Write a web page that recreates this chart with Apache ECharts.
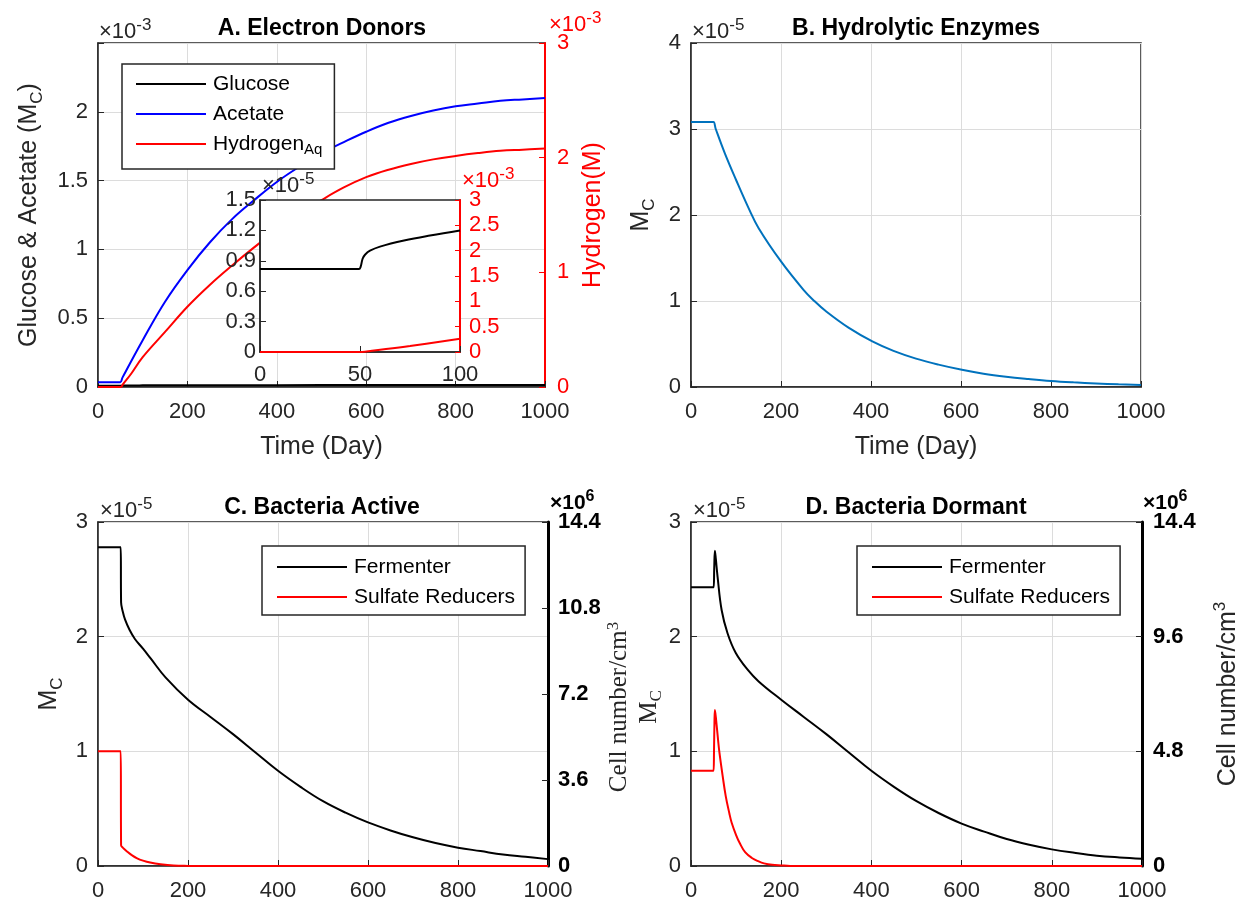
<!DOCTYPE html>
<html>
<head>
<meta charset="utf-8">
<script src="https://cdn.jsdelivr.net/npm/echarts@6/dist/echarts.min.js"></script>
<style>
  html, body { margin: 0; padding: 0; background: #fff; }
  #chart { width: 1244px; height: 907px; }
</style>
</head>
<body>
<div id="chart"></div>
<script>
// ---- A. Electron donors (Glucose in 1e-5 M_C, Acetate in 1e-3 M_C, Hydrogen in 1e-3 M) ----
const timeGlucose = [0, 45, 49.5, 50.3, 51.3, 52.5, 55, 60, 72, 85, 100, 200, 400, 600, 800, 1000];
const glucose     = [0.82, 0.82, 0.82, 0.84, 0.92, 0.96, 1.0, 1.04, 1.1, 1.15, 1.2, 1.3, 1.35, 1.38, 1.4, 1.41];

const timeAcetate = [0, 45, 50, 55, 100, 150, 200, 250, 300, 350, 400, 450, 500, 550, 600, 650, 700, 750, 800, 850, 900, 950, 1000];
const acetate     = [0.035, 0.035, 0.035, 0.07, 0.34, 0.62, 0.85, 1.05, 1.22, 1.36, 1.49, 1.6, 1.7, 1.78, 1.855, 1.92, 1.97, 2.01, 2.04, 2.06, 2.08, 2.09, 2.1];

const timeHydrogen = [0, 46, 51, 56, 75, 100, 150, 200, 250, 300, 350, 400, 450, 500, 550, 600, 650, 700, 750, 800, 850, 900, 950, 1000];
const hydrogen     = [0, 0, 0, 0.025, 0.12, 0.26, 0.48, 0.7, 0.89, 1.06, 1.22, 1.37, 1.51, 1.63, 1.74, 1.83, 1.895, 1.945, 1.985, 2.015, 2.04, 2.06, 2.07, 2.08];

// ---- B. Hydrolytic enzymes (1e-5 M_C) ----
const timeEnzyme = [0, 45, 50, 55, 75, 100, 128, 150, 200, 250, 274, 300, 350, 403, 450, 500, 550, 602, 650, 700, 750, 800, 850, 900, 950, 1000];
const enzyme     = [3.08, 3.08, 3.08, 3.0, 2.72, 2.41, 2.08, 1.85, 1.46, 1.13, 1.0, 0.88, 0.69, 0.53, 0.42, 0.33, 0.26, 0.2, 0.155, 0.12, 0.093, 0.07, 0.054, 0.042, 0.031, 0.022];

// ---- C. Active bacteria (1e-5 M_C) ----
const timeFermActive = [0, 45, 50.5, 51.3, 55, 60, 70, 82, 100, 117, 150, 200, 250, 300, 350, 400, 450, 500, 550, 600, 650, 700, 750, 800, 850, 900, 950, 1000];
const fermActive     = [2.78, 2.78, 2.78, 2.3, 2.22, 2.15, 2.06, 1.98, 1.895, 1.81, 1.645, 1.45, 1.3, 1.15, 0.99, 0.83, 0.69, 0.565, 0.465, 0.38, 0.31, 0.25, 0.2, 0.16, 0.13, 0.1, 0.08, 0.06];

const timeSrbActive = [0, 45, 50.5, 51.3, 55, 65, 75, 87, 100, 116, 139, 168, 200, 250, 1000];
const srbActive     = [1.0, 1.0, 1.0, 0.18, 0.16, 0.125, 0.095, 0.067, 0.047, 0.03, 0.015, 0.004, 0.001, 0, 0];

// ---- D. Dormant bacteria (1e-5 M_C) ----
const timeFermDormant = [0, 45, 50, 51.5, 53, 55, 59, 68, 81, 99, 126, 150, 200, 250, 300, 350, 400, 450, 500, 550, 600, 650, 700, 750, 800, 850, 900, 950, 1000];
const fermDormant     = [2.43, 2.43, 2.43, 2.6, 2.75, 2.68, 2.52, 2.23, 2.03, 1.86, 1.71, 1.61, 1.45, 1.3, 1.15, 0.99, 0.83, 0.69, 0.565, 0.46, 0.37, 0.3, 0.235, 0.185, 0.145, 0.115, 0.09, 0.075, 0.064];

const timeSrbDormant = [0, 45, 50, 51, 52, 53, 55, 60, 63, 70, 77, 85, 90, 100, 108, 120, 135, 150, 162, 180, 200, 220, 250, 1000];
const srbDormant     = [0.83, 0.83, 0.83, 1.0, 1.25, 1.36, 1.3, 1.1, 0.99, 0.79, 0.61, 0.46, 0.38, 0.27, 0.2, 0.12, 0.07, 0.04, 0.023, 0.01, 0.005, 0.001, 0, 0];

// ---- Cell number axes (1e6 cells/cm^3) ----
const cellMax = 14.4;
const cellStepActive = 3.6;
const cellStepDormant = 4.8;

const AX = '#262626';
const GRID = '#dcdcdc';
const SANS = 'Liberation Sans';
const SERIF = 'Liberation Serif';

function pairs(t, v, k = 1, tMax = Infinity) {
  const out = [];
  t.forEach((x, i) => { if (x <= tMax) out.push([x, v[i] * k]); });
  return out;
}
function fmt(v) { return String(+v.toFixed(2)); }

function rich(size, color, weight, family, supScale = 0.68) {
  const s = Math.round(size * supScale);
  return {
    n:   { fontSize: size, lineHeight: size + 8, color, fontWeight: weight, fontFamily: family, verticalAlign: 'middle' },
    sup: { fontSize: s, lineHeight: s, color, fontWeight: weight, fontFamily: family, verticalAlign: 'top' },
    sub: { fontSize: s, lineHeight: s, color, fontWeight: weight, fontFamily: family, verticalAlign: 'bottom' }
  };
}

function xAx(gridIndex, extra = {}) {
  return Object.assign({
    type: 'value', gridIndex, min: 0, max: 1000, interval: 200,
    axisLine: { show: true, onZero: false, lineStyle: { color: AX, width: 1.5 } },
    axisTick: { show: true, inside: true, length: 6, lineStyle: { color: AX, width: 1 } },
    axisLabel: { color: AX, fontSize: 22, fontFamily: SANS, margin: 14, formatter: fmt },
    splitLine: { show: true, lineStyle: { color: GRID, width: 1 } }
  }, extra);
}
function yAx(gridIndex, extra = {}) {
  return Object.assign({
    type: 'value', gridIndex, min: 0,
    axisLine: { show: true, onZero: false, lineStyle: { color: AX, width: 1.5 } },
    axisTick: { show: true, inside: true, length: 6, lineStyle: { color: AX, width: 1 } },
    axisLabel: { color: AX, fontSize: 22, fontFamily: SANS, margin: 10, formatter: fmt },
    splitLine: { show: true, lineStyle: { color: GRID, width: 1 } }
  }, extra);
}
const timeName = {
  name: 'Time (Day)', nameLocation: 'middle', nameGap: 48,
  nameTextStyle: { fontSize: 25, fontFamily: SANS, color: AX }
};

function line(name, xi, yi, data, color, extra = {}) {
  return Object.assign({
    name, type: 'line', xAxisIndex: xi, yAxisIndex: yi, data,
    showSymbol: false, symbol: 'none', smooth: 0.4,
    lineStyle: { color, width: 2 }, itemStyle: { color }, z: 3
  }, extra);
}

function txt(x, y, text, opts = {}) {
  const size = opts.size || 20;
  const color = opts.color || AX;
  const weight = opts.weight || 'normal';
  return {
    type: 'text', x, y, z: 20, silent: true,
    style: {
      text, fill: color,
      font: `${weight} ${size}px "${SANS}"`,
      rich: rich(size, color, weight, SANS, opts.supScale || 0.68),
      align: opts.align || 'left', verticalAlign: 'middle'
    }
  };
}

const legendRich = {
  n:   { fontSize: 21, fontFamily: SANS, color: '#000', lineHeight: 26, padding: [0, 0, 0, 2] },
  sub: { fontSize: 15, fontFamily: SANS, color: '#000', lineHeight: 26, verticalAlign: 'bottom', padding: [8, 0, 0, 0] }
};
function legendBox(names, left, top, padding, rowHeight) {
  return {
    data: names, orient: 'vertical', left, top, padding, itemGap: 4,
    itemWidth: 70, itemHeight: 2, icon: 'rect',
    backgroundColor: '#fff', borderColor: AX, borderWidth: 1.5,
    selectedMode: false,
    formatter: n => n === 'Hydrogen_Aq' ? '{n|Hydrogen}{sub|Aq}' : '{n|' + n + '}',
    textStyle: { rich: legendRich, lineHeight: rowHeight }
  };
}

const option = {
  animation: false,
  backgroundColor: '#fff',
  grid: [
    { left: 98, top: 43, width: 447, height: 344, show: true, borderColor: AX, borderWidth: 1.5 },
    { left: 691, top: 43, width: 450, height: 344, show: true, borderColor: AX, borderWidth: 1.5 },
    { left: 98, top: 522, width: 450, height: 344, show: true, borderColor: AX, borderWidth: 1.5 },
    { left: 691, top: 522, width: 451, height: 344, show: true, borderColor: AX, borderWidth: 1.5 },
    { left: 260, top: 200, width: 200, height: 152, show: true, borderColor: AX, borderWidth: 1.5, backgroundColor: '#fff', z: 5 }
  ],
  xAxis: [
    xAx(0, timeName),
    xAx(1, timeName),
    xAx(2),
    xAx(3),
    xAx(4, { max: 100, interval: 50, z: 6, splitLine: { show: false },
             axisLabel: { color: AX, fontSize: 22, fontFamily: SANS, margin: 12, formatter: fmt } })
  ],
  yAxis: [
    // 0: A left
    yAx(0, { max: 2.5, interval: 0.5,
      axisLabel: { color: AX, fontSize: 22, fontFamily: SANS, margin: 10,
                   formatter: v => Math.abs(v - 2.5) < 1e-9 ? '' : fmt(v) },
      name: '{n|Glucose & Acetate (M}{sub|C}{n|)}', nameLocation: 'middle', nameGap: 52,
      nameTextStyle: { rich: rich(25, AX, 'normal', SANS) } }),
    // 1: A right (hydrogen)
    yAx(0, { position: 'right', max: 3, interval: 1, splitLine: { show: false },
      axisLine: { show: true, onZero: false, lineStyle: { color: '#ff0000', width: 2 } },
      axisTick: { show: true, inside: true, length: 6, lineStyle: { color: '#ff0000' } },
      axisLabel: { color: '#ff0000', fontSize: 22, fontFamily: SANS, margin: 12, formatter: fmt },
      name: 'Hydrogen(M)', nameLocation: 'middle', nameGap: 36,
      nameTextStyle: { fontSize: 25, fontFamily: SANS, color: '#ff0000' } }),
    // 2: B left
    yAx(1, { max: 4, interval: 1,
      name: '{n|M}{sub|C}', nameLocation: 'middle', nameGap: 33,
      nameTextStyle: { rich: rich(25, AX, 'normal', SANS) } }),
    // 3: C left
    yAx(2, { max: 3, interval: 1,
      name: '{n|M}{sub|C}', nameLocation: 'middle', nameGap: 32,
      nameTextStyle: { rich: rich(25, AX, 'normal', SANS) } }),
    // 4: C right (cells)
    yAx(2, { position: 'right', max: cellMax, interval: cellStepActive, splitLine: { show: false },
      axisLine: { show: true, onZero: false, lineStyle: { color: '#000', width: 3 } },
      axisLabel: { color: '#000', fontSize: 22, fontWeight: 'bold', fontFamily: SANS, margin: 10, formatter: fmt } }),
    // 5: D left
    yAx(3, { max: 3, interval: 1,
      name: '{s|Cell number/cm}{ssup|3}\n{s|M}{ssub|C}', nameLocation: 'middle', nameGap: 18,
      nameTextStyle: { padding: [0, 26, 0, 0], rich: {
        s:    { fontSize: 25, lineHeight: 30, fontFamily: SERIF, color: AX, verticalAlign: 'middle' },
        ssup: { fontSize: 17, lineHeight: 16, fontFamily: SERIF, color: AX, verticalAlign: 'top' },
        ssub: { fontSize: 17, lineHeight: 16, fontFamily: SERIF, color: AX, verticalAlign: 'bottom' }
      } } }),
    // 6: D right (cells)
    yAx(3, { position: 'right', max: cellMax, interval: cellStepDormant, splitLine: { show: false },
      axisLine: { show: true, onZero: false, lineStyle: { color: '#000', width: 3 } },
      axisLabel: { color: '#000', fontSize: 22, fontWeight: 'bold', fontFamily: SANS, margin: 11, formatter: fmt },
      name: '{n|Cell number/cm}{sup|3}', nameLocation: 'middle', nameGap: 70,
      nameTextStyle: { rich: rich(25, AX, 'normal', SANS) } }),
    // 7: inset left (glucose)
    yAx(4, { max: 1.5, interval: 0.3, z: 6, splitLine: { show: false },
      axisLabel: { color: AX, fontSize: 22, fontFamily: SANS, margin: 4, formatter: fmt } }),
    // 8: inset right (hydrogen)
    yAx(4, { position: 'right', max: 3, interval: 0.5, z: 6, splitLine: { show: false },
      axisLine: { show: true, onZero: false, lineStyle: { color: '#ff0000', width: 2 } },
      axisTick: { show: true, inside: true, length: 5, lineStyle: { color: '#ff0000' } },
      axisLabel: { color: '#ff0000', fontSize: 22, fontFamily: SANS, margin: 9, formatter: fmt } })
  ],
  legend: [
    legendBox(['Glucose', 'Acetate', 'Hydrogen_Aq'], 122, 64, [7, 12, 12, 14], 26),
    legendBox(['Fermenter', 'Sulfate Reducers'], 262, 546, [8, 10, 5, 15], 25),
    legendBox(['Fermenter', 'Sulfate Reducers'], 857, 546, [8, 10, 5, 15], 25)
  ],
  series: [
    line('Glucose', 0, 0, pairs(timeGlucose, glucose, 0.01), '#000000'),
    line('Acetate', 0, 0, pairs(timeAcetate, acetate), '#0000ff'),
    line('Hydrogen_Aq', 0, 1, pairs(timeHydrogen, hydrogen), '#ff0000'),
    line('Enzymes', 1, 2, pairs(timeEnzyme, enzyme), '#0072bd'),
    line('Fermenter', 2, 3, pairs(timeFermActive, fermActive), '#000000'),
    line('Sulfate Reducers', 2, 3, pairs(timeSrbActive, srbActive), '#ff0000'),
    line('Fermenter', 3, 5, pairs(timeFermDormant, fermDormant), '#000000'),
    line('Sulfate Reducers', 3, 5, pairs(timeSrbDormant, srbDormant), '#ff0000'),
    line('Glucose', 4, 7, pairs(timeGlucose, glucose, 1, 100), '#000000', { z: 7 }),
    line('Hydrogen_Aq', 4, 8, pairs(timeHydrogen, hydrogen, 1, 100), '#ff0000', { z: 7 })
  ],
  graphic: [
    txt(322, 29, 'A. Electron Donors', { size: 23, weight: 'bold', align: 'center', color: '#000' }),
    txt(916, 29, 'B. Hydrolytic Enzymes', { size: 23, weight: 'bold', align: 'center', color: '#000' }),
    txt(322, 508, 'C. Bacteria Active', { size: 23, weight: 'bold', align: 'center', color: '#000' }),
    txt(916, 508, 'D. Bacteria Dormant', { size: 23, weight: 'bold', align: 'center', color: '#000' }),
    txt(99, 32, '{n|×10}{sup|-3}', { size: 22, supScale: 0.75 }),
    txt(549, 25, '{n|×10}{sup|-3}', { size: 22, supScale: 0.75, color: '#ff0000' }),
    txt(692, 32, '{n|×10}{sup|-5}', { size: 22, supScale: 0.75 }),
    txt(100, 511, '{n|×10}{sup|-5}', { size: 22, supScale: 0.75 }),
    txt(550, 503, '{n|×10}{sup|6}', { size: 21, supScale: 0.75, weight: 'bold', color: '#000' }),
    txt(693, 511, '{n|×10}{sup|-5}', { size: 22, supScale: 0.75 }),
    txt(1143, 503, '{n|×10}{sup|6}', { size: 21, supScale: 0.75, weight: 'bold', color: '#000' }),
    txt(262, 186, '{n|×10}{sup|-5}', { size: 22, supScale: 0.75 }),
    txt(462, 181, '{n|×10}{sup|-3}', { size: 22, supScale: 0.75, color: '#ff0000' })
  ]
};

const chart = echarts.init(document.getElementById('chart'), null, { renderer: 'canvas' });
chart.setOption(option);
</script>
</body>
</html>
